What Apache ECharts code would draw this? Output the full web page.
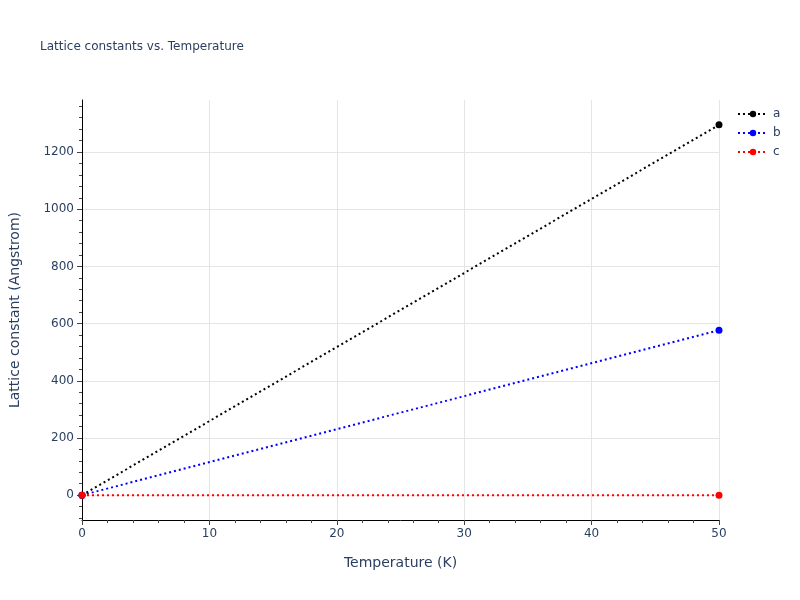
<!DOCTYPE html>
<html>
<head>
<meta charset="utf-8">
<script src="https://cdn.jsdelivr.net/npm/echarts@6/dist/echarts.min.js"></script>
<style>html,body{margin:0;padding:0;background:#fff}#c{width:800px;height:600px}</style>
</head>
<body>
<div id="c"></div>
<script>
const temperatures = [0, 50];
const seriesA = [0, 1295];
const seriesB = [0, 577];
const seriesC = [0, 0];
const yTickLabels = [0, 200, 400, 600, 800, 1000, 1200];
const yMinorTicks = [-80, -40, 0, 40, 80, 120, 160, 200, 240, 280, 320, 360, 400, 440, 480, 520, 560, 600, 640, 680, 720, 760, 800, 840, 880, 920, 960, 1000, 1040, 1080, 1120, 1160, 1200, 1240, 1280, 1320, 1360];

const font = 'DejaVu Sans';
const txt = '#2a3f5f';
const chart = echarts.init(document.getElementById('c'));
function mk(name, data, color) {
  return {
    name, type: 'line', data: temperatures.map((t, i) => [t, data[i]]),
    symbol: 'circle', symbolSize: 7, showSymbol: true,
    lineStyle: { color, width: 2, type: [2, 3] },
    itemStyle: { color },
    animation: false
  };
}
chart.setOption({
  animation: false,
  textStyle: { fontFamily: font },
  title: { text: 'Lattice constants vs. Temperature', left: 35, top: 36,
    textStyle: { fontSize: 12, fontWeight: 'normal', color: txt, fontFamily: font } },
  legend: { orient: 'vertical', left: 737, top: 108, padding: 0, itemGap: 7, itemWidth: 30, itemHeight: 8,
    textStyle: { fontSize: 12, color: txt, fontFamily: font }, data: ['a', 'b', 'c'] },
  grid: { left: 79, right: 81, top: 100, bottom: 80 },
  xAxis: {
    type: 'value', min: 0, max: 50, interval: 10,
    name: 'Temperature (K)', nameLocation: 'middle', nameGap: 36,
    nameTextStyle: { fontSize: 14, color: txt, fontFamily: font },
    axisLine: { show: true, onZero: false, lineStyle: { color: '#000', width: 1 } },
    axisTick: { show: true, length: 5, lineStyle: { color: '#444' } },
    minorTick: { show: true, splitNumber: 5, length: 3, lineStyle: { color: '#444' } },
    axisLabel: { fontSize: 12, color: txt, margin: 8, fontFamily: font },
    splitLine: { show: true, lineStyle: { color: '#e5e5e5', width: 1 } }
  },
  yAxis: [{
    type: 'value', min: -87, max: 1382,
    name: 'Lattice constant (Angstrom)', nameLocation: 'middle', nameGap: 60,
    nameTextStyle: { fontSize: 14, color: txt, fontFamily: font },
    axisLine: { show: true, onZero: false, lineStyle: { color: '#000', width: 1 } },
    axisTick: { show: true, length: 5, customValues: yTickLabels, lineStyle: { color: '#444' } },
    axisLabel: { fontSize: 12, color: txt, margin: 8, customValues: yTickLabels, fontFamily: font,
      formatter: v => String(v) },
    splitLine: { show: true, lineStyle: { color: '#e5e5e5', width: 1 } }
  }, {
    type: 'value', min: -87, max: 1382, position: 'left',
    axisLine: { show: false },
    axisTick: { show: true, length: 3, customValues: yMinorTicks, lineStyle: { color: '#444' } },
    axisLabel: { show: false },
    splitLine: { show: false }
  }],
  series: [mk('a', seriesA, '#000000'), mk('b', seriesB, '#0000ff'), mk('c', seriesC, '#ff0000')]
});
</script>
</body>
</html>
